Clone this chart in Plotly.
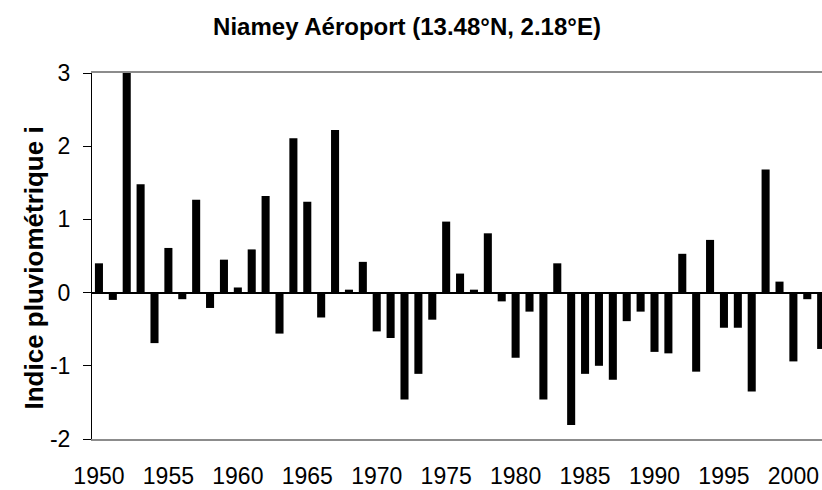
import plotly.graph_objects as go

# Annual rainfall index, Niamey airport station
years = list(range(1950, 2003))
index_values = [
    0.40, -0.10, 3.00, 1.48, -0.69, 0.61, -0.09, 1.27, -0.21, 0.45,
    0.07, 0.59, 1.32, -0.56, 2.11, 1.24, -0.34, 2.22, 0.04, 0.42,
    -0.53, -0.62, -1.46, -1.11, -0.37, 0.97, 0.26, 0.04, 0.81, -0.12,
    -0.89, -0.26, -1.46, 0.40, -1.81, -1.11, -1.00, -1.19, -0.39, -0.26,
    -0.81, -0.83, 0.53, -1.08, 0.72, -0.48, -0.48, -1.35, 1.68, 0.15,
    -0.94, -0.09, -0.77,
]
tick_years = list(range(1950, 2001, 5))
y_ticks = [-2, -1, 0, 1, 2, 3]
y_tick_labels = ["-2", "-1", "0", "1", "2", "3"]

FONT = "Liberation Sans"

fig = go.Figure(
    go.Bar(
        x=years,
        y=index_values,
        width=0.58,
        marker=dict(color="black", line=dict(width=0)),
    )
)

fig.update_layout(
    width=822,
    height=490,
    margin=dict(l=92, r=0, t=73, b=51),
    paper_bgcolor="white",
    plot_bgcolor="white",
    showlegend=False,
    font=dict(family=FONT, color="black"),
    title=dict(
        text="<b>Niamey Aéroport (13.48°N, 2.18°E)</b>",
        font=dict(family=FONT, size=24, color="black"),
        xref="container", yref="container",
        x=407 / 822, y=1 - 27 / 490,
        xanchor="center", yanchor="middle",
    ),
    annotations=[
        dict(
            text="<b>Indice pluviométrique i</b>",
            textangle=-90,
            font=dict(family=FONT, size=26, color="black"),
            xref="paper", yref="paper",
            x=(33 - 92) / 730, y=(439 - 268.5) / 366,
            xanchor="center", yanchor="middle",
            showarrow=False,
        )
    ],
)

fig.update_xaxes(
    range=[1949.5, 2002.06],
    tickvals=tick_years,
    ticktext=[str(y) for y in tick_years],
    ticks="",
    showgrid=False,
    zeroline=False,
    showline=True,
    linecolor="#8c8c8c",
    linewidth=1.5,
    mirror=True,
    automargin=False,
    tickfont=dict(family=FONT, size=23, color="black"),
    ticklabelstandoff=16,
)

fig.update_yaxes(
    range=[-2, 3],
    tickvals=y_ticks,
    ticktext=y_tick_labels,
    ticks="outside",
    ticklen=8,
    tickcolor="black",
    tickwidth=1,
    showgrid=False,
    zeroline=True,
    zerolinecolor="black",
    zerolinewidth=1.5,
    showline=True,
    linecolor="black",
    linewidth=1,
    automargin=False,
    tickfont=dict(family=FONT, size=23, color="black"),
    ticklabelstandoff=8,
)

fig.write_html("out.html")
